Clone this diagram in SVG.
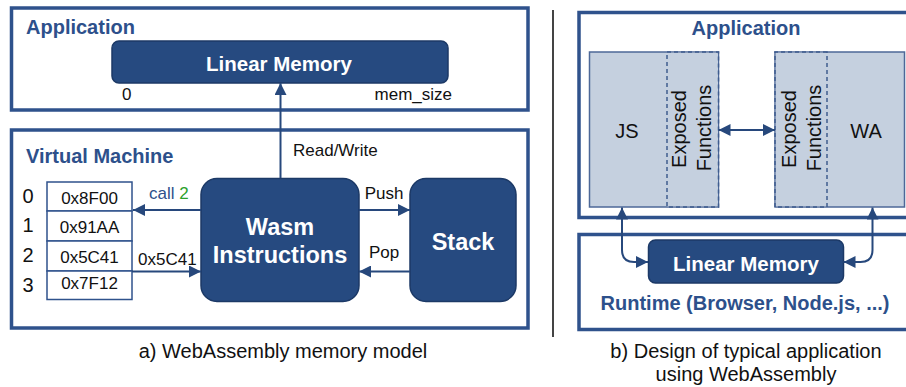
<svg xmlns="http://www.w3.org/2000/svg" width="906" height="387" viewBox="0 0 906 387">
<defs>
<style>
text{font-family:"Liberation Sans",Arial,sans-serif;}
.frame{fill:#ffffff;stroke:#2f528c;stroke-width:3.5;}
.node{fill:#264a80;stroke:#1c3966;stroke-width:1.5;}
.ntext{fill:#ffffff;font-weight:bold;text-anchor:middle;}
.head{fill:#2d508b;font-weight:bold;font-size:20px;}
.lbl{fill:#111111;font-size:17px;}
.cell{fill:#ffffff;stroke:#2f528c;stroke-width:1.5;}
.conn{fill:none;stroke:#27487c;stroke-width:2;}
.block{fill:#c5d0df;stroke:#4d6898;stroke-width:1.5;}
.dash{fill:none;stroke:#3f5c8f;stroke-width:1.5;stroke-dasharray:4 3;}
.btext{fill:#111111;font-size:20px;text-anchor:middle;}
.cap{fill:#111111;font-size:20px;text-anchor:middle;}
</style>
<marker id="ah" viewBox="0 0 12 12" refX="12" refY="6" markerWidth="12" markerHeight="12" markerUnits="userSpaceOnUse" orient="auto-start-reverse">
<path d="M0,0 L12,6 L0,12 Z" fill="#27487c"/>
</marker>
</defs>

<!-- frames -->
<g id="left-application">
<rect class="frame" x="11.5" y="8" width="516.5" height="102"/>
<text class="head" x="26" y="34">Application</text>
</g>
<g id="virtual-machine">
<rect class="frame" x="11.5" y="130" width="516.5" height="198"/>
<text class="head" x="26" y="163" font-size="20.5">Virtual Machine</text>
</g>
<line x1="553" y1="10" x2="553" y2="337" stroke="#444444" stroke-width="2"/>
<g id="right-application">
<rect class="frame" x="579" y="12.5" width="335" height="205"/>
<text class="head" x="746" y="35" text-anchor="middle">Application</text>
</g>
<g id="runtime">
<rect class="frame" x="579" y="234.5" width="335" height="95"/>
<text class="head" x="745" y="310" text-anchor="middle">Runtime (Browser, Node.js, ...)</text>
</g>

<!-- left nodes -->
<g id="linear-memory-left">
<rect class="node" x="112" y="41" width="336" height="42" rx="7"/>
<text class="ntext" x="279" y="71" font-size="20.5">Linear Memory</text>
<text class="lbl" x="122" y="100">0</text>
<text class="lbl" x="452" y="100" text-anchor="end">mem_size</text>
</g>

<g id="memory-table">
<rect class="cell" x="47" y="182" width="85" height="29"/>
<rect class="cell" x="47" y="211" width="85" height="30"/>
<rect class="cell" x="47" y="241" width="85" height="30"/>
<rect class="cell" x="47" y="271" width="85" height="28.5"/>
<g class="lbl" text-anchor="middle">
<text x="89.5" y="204">0x8F00</text>
<text x="89.5" y="233">0x91AA</text>
<text x="89.5" y="263">0x5C41</text>
<text x="89.5" y="289">0x7F12</text>
</g>
<g fill="#111111" font-size="20" text-anchor="middle">
<text x="28" y="203" font-family="Liberation Sans">0</text>
<text x="28" y="232" font-family="Liberation Sans">1</text>
<text x="28" y="262" font-family="Liberation Sans">2</text>
<text x="28" y="292" font-family="Liberation Sans">3</text>
</g>
</g>

<g id="wasm-instructions">
<rect class="node" x="201" y="178.5" width="158" height="123" rx="16"/>
<text class="ntext" x="280" y="235" font-size="23.5">Wasm</text>
<text class="ntext" x="280" y="263" font-size="23.5">Instructions</text>
</g>

<g id="stack">
<rect class="node" x="410" y="178.5" width="106" height="123" rx="16"/>
<text class="ntext" x="463" y="250" font-size="23.5">Stack</text>
</g>

<!-- right nodes -->
<g id="js-block">
<rect class="block" x="589.5" y="52" width="129" height="155"/>
<rect fill="#c5d0df" stroke="none" x="667" y="52.75" width="51" height="153.5"/>
<path class="dash" d="M667,52 L718.5,52 L718.5,207 L667,207 Z"/>
<text class="btext" x="627" y="138">JS</text>
<text class="btext" transform="translate(686,129) rotate(-90)">Exposed</text>
<text class="btext" transform="translate(711,128) rotate(-90)">Functions</text>
</g>

<g id="wa-block">
<rect class="block" x="775" y="52" width="129.5" height="155"/>
<rect fill="#c5d0df" stroke="none" x="775.75" y="52.75" width="51" height="153.5"/>
<path class="dash" d="M827,52 L775,52 L775,207 L827,207 Z"/>
<text class="btext" x="866" y="138">WA</text>
<text class="btext" transform="translate(796,129) rotate(-90)">Exposed</text>
<text class="btext" transform="translate(821,128) rotate(-90)">Functions</text>
</g>

<g id="linear-memory-right">
<rect class="node" x="648.5" y="240" width="195" height="43" rx="7"/>
<text class="ntext" x="746" y="271" font-size="20.5">Linear Memory</text>
</g>

<!-- connectors -->
<g id="connectors">
<line class="conn" x1="280.5" y1="178" x2="280.5" y2="83" marker-end="url(#ah)"/>
<text class="lbl" x="293" y="156" font-size="20">Read/Write</text>

<line class="conn" x1="201" y1="210" x2="133" y2="210" marker-end="url(#ah)"/>
<text x="149" y="199" font-size="17"><tspan fill="#2d508b">call </tspan><tspan fill="#2ca02c">2</tspan></text>

<line class="conn" x1="132" y1="271.5" x2="201" y2="271.5" marker-end="url(#ah)"/>
<text class="lbl" x="138" y="265">0x5C41</text>

<line class="conn" x1="359" y1="210" x2="410" y2="210" marker-end="url(#ah)"/>
<text class="lbl" x="384" y="199" text-anchor="middle">Push</text>

<line class="conn" x1="410" y1="271.5" x2="359" y2="271.5" marker-end="url(#ah)"/>
<text class="lbl" x="384" y="258" text-anchor="middle">Pop</text>

<line class="conn" x1="718.5" y1="130" x2="775" y2="130" marker-start="url(#ah)" marker-end="url(#ah)"/>

<path class="conn" d="M622,207.5 L622,250 Q622,262 634,262 L648,262" marker-start="url(#ah)" marker-end="url(#ah)"/>
<path class="conn" d="M872.5,207.5 L872.5,250 Q872.5,262 860.5,262 L843.5,262" marker-start="url(#ah)" marker-end="url(#ah)"/>
</g>

<!-- captions -->
<text class="cap" x="283" y="358" font-size="18.5">a) WebAssembly memory model</text>
<text class="cap" x="746" y="358">b) Design of typical application</text>
<text class="cap" x="746" y="381">using WebAssembly</text>
</svg>
